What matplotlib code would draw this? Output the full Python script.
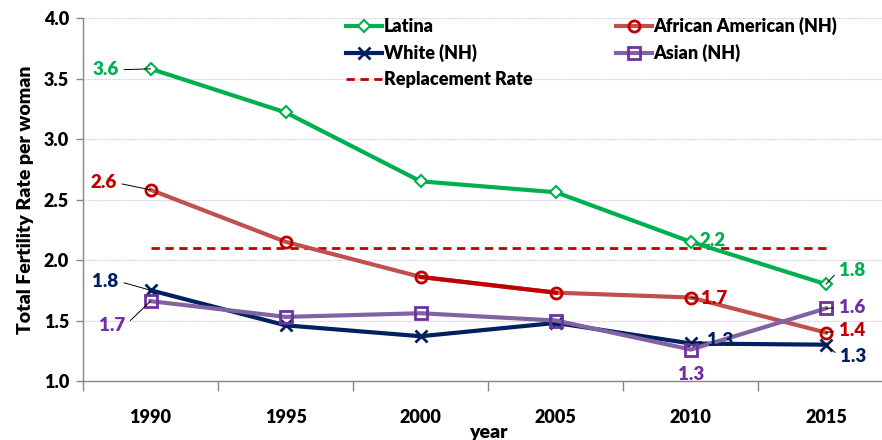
import numpy as np
import matplotlib
matplotlib.use('Agg')
import matplotlib.pyplot as plt

# du lieu doc tu hinh
nam = ['1990', '1995', '2000', '2005', '2010', '2015']
latina = [3.58, 3.22, 2.65, 2.56, 2.15, 1.80]
african = [2.58, 2.15, 1.86, 1.73, 1.69, 1.40]
white = [1.75, 1.46, 1.37, 1.48, 1.31, 1.30]
asian = [1.66, 1.53, 1.56, 1.50, 1.26, 1.60]
replacement = [2.1, 2.1, 2.1, 2.1, 2.1, 2.1]

# nhan du lieu
nhan_latina = ['3.6', '', '', '', '2.2', '1.8']
nhan_african = ['2.6', '', '', '', '1.7', '1.4']
nhan_white = ['1.8', '', '', '', '1.3', '1.3']
nhan_asian = ['1.7', '', '', '', '1.3', '1.6']

W = 'heavy'
plt.rcParams['font.family'] = ['Lato', 'DejaVu Sans']
plt.rcParams['font.weight'] = W

fig = plt.figure(figsize=(8.82, 4.40), dpi=100)
ax = fig.add_axes([83/882, 59/440, 810.5/882, 363/440])

x = np.arange(len(nam))

c_green = '#00B050'
c_red_line = '#C0504D'
c_red = '#C00000'
c_navy = '#002060'
c_purple_line = '#8064A2'
c_purple = '#7030A0'

ax.plot(x, replacement, color=c_red, lw=2, ls=(0, (3, 2)), label='Replacement Rate', zorder=2)
ax.plot(x, latina, color=c_green, lw=3, marker='D', ms=6.5, mfc='white', mec=c_green, mew=1.5,
        label='Latina', zorder=3)
ax.plot(x, african, color=c_red_line, lw=3, marker='o', ms=8, mfc='none', mec=c_red, mew=2,
        label='African American (NH)', zorder=3)
ax.plot(x[2:4], african[2:4], color=c_red, lw=3, zorder=3)
ax.plot(x, white, color=c_navy, lw=3, marker='x', ms=8, mec=c_navy, mew=2,
        label='White (NH)', zorder=4)
ax.plot(x, asian, color=c_purple_line, lw=3, marker='s', ms=8, mfc='none', mec=c_purple, mew=2,
        label='Asian (NH)', zorder=5)

# nhan gia tri
def ghi_nhan(i, y, text, color, dx, dy, ha, leader=True):
    if leader:
        relx = 1 if ha == 'right' else 0
        ax.annotate(text, (x[i], y), xytext=(dx, dy), textcoords='offset pixels',
                    ha=ha, va='center', color=color, fontsize=13.5, fontweight=W,
                    arrowprops=dict(arrowstyle='-', color='black', lw=0.7,
                                    shrinkA=2, shrinkB=0, relpos=(relx, 0.5)),
                    zorder=6)
    else:
        ax.annotate(text, (x[i], y), xytext=(dx, dy), textcoords='offset pixels',
                    ha=ha, va='center', color=color, fontsize=13.5, fontweight=W, zorder=6)

ghi_nhan(0, latina[0], nhan_latina[0], c_green, -32, -1, 'right')
ghi_nhan(4, latina[4], nhan_latina[4], c_green, 9, 1, 'left', leader=False)
ghi_nhan(5, latina[5], nhan_latina[5], c_green, 13, 14, 'left')
ghi_nhan(0, african[0], nhan_african[0], c_red, -34, 7, 'right')
ghi_nhan(4, african[4], nhan_african[4], c_red, 10, -1, 'left')
ghi_nhan(5, african[5], nhan_african[5], c_red, 13, 2, 'left')
ghi_nhan(0, white[0], nhan_white[0], c_navy, -32, 9, 'right')
ghi_nhan(4, white[4], nhan_white[4], c_navy, 16, 3, 'left')
ghi_nhan(5, white[5], nhan_white[5], c_navy, 14, -12, 'left')
ghi_nhan(0, asian[0], nhan_asian[0], c_purple, -25, -24, 'right')
ghi_nhan(4, asian[4], nhan_asian[4], c_purple, 0, -25, 'center', leader=False)
ghi_nhan(5, asian[5], nhan_asian[5], c_purple, 13, 1, 'left')

ax.set_ylim(1.0, 4.0)
ax.set_xlim(-0.5, len(nam) - 0.5)
ax.set_yticks(np.arange(1.0, 4.01, 0.5))
ax.set_yticklabels(['%.1f' % v for v in np.arange(1.0, 4.01, 0.5)])
ax.set_xticks(x)
ax.set_xticklabels(nam)
ax.set_xticks(np.arange(-0.5, len(nam), 1), minor=True)
ax.tick_params(axis='x', which='major', length=0, pad=20, labelsize=13)
ax.tick_params(axis='x', which='minor', length=7, color='#868686', width=1)
ax.tick_params(axis='y', length=5, color='#868686', width=1, labelsize=13, pad=5)

for s in ['top', 'right']:
    ax.spines[s].set_visible(False)
for s in ['left', 'bottom']:
    ax.spines[s].set_color('#868686')
    ax.spines[s].set_linewidth(1)

ax.grid(axis='y', color='#CDBFE0', ls=(0, (1, 1)), lw=0.8)
ax.set_axisbelow(True)

ax.set_ylabel('Total Fertility Rate per woman', fontsize=14, fontweight=W, labelpad=7)
ax.set_xlabel('year', fontsize=14, fontweight=W, labelpad=-1)

handles, labels = ax.get_legend_handles_labels()
thu_tu = ['Latina', 'White (NH)', 'Replacement Rate', 'African American (NH)', 'Asian (NH)']
h2 = [handles[labels.index(t)] for t in thu_tu]
leg = fig.legend(h2, thu_tu, loc='upper left', bbox_to_anchor=(346/882, 1 - 17/440),
                 ncol=2, frameon=False, fontsize=13, handlelength=2.0, handletextpad=0.1,
                 columnspacing=4.6, labelspacing=0.5, borderpad=0, borderaxespad=0)

fig.savefig('out.png', dpi=100)
